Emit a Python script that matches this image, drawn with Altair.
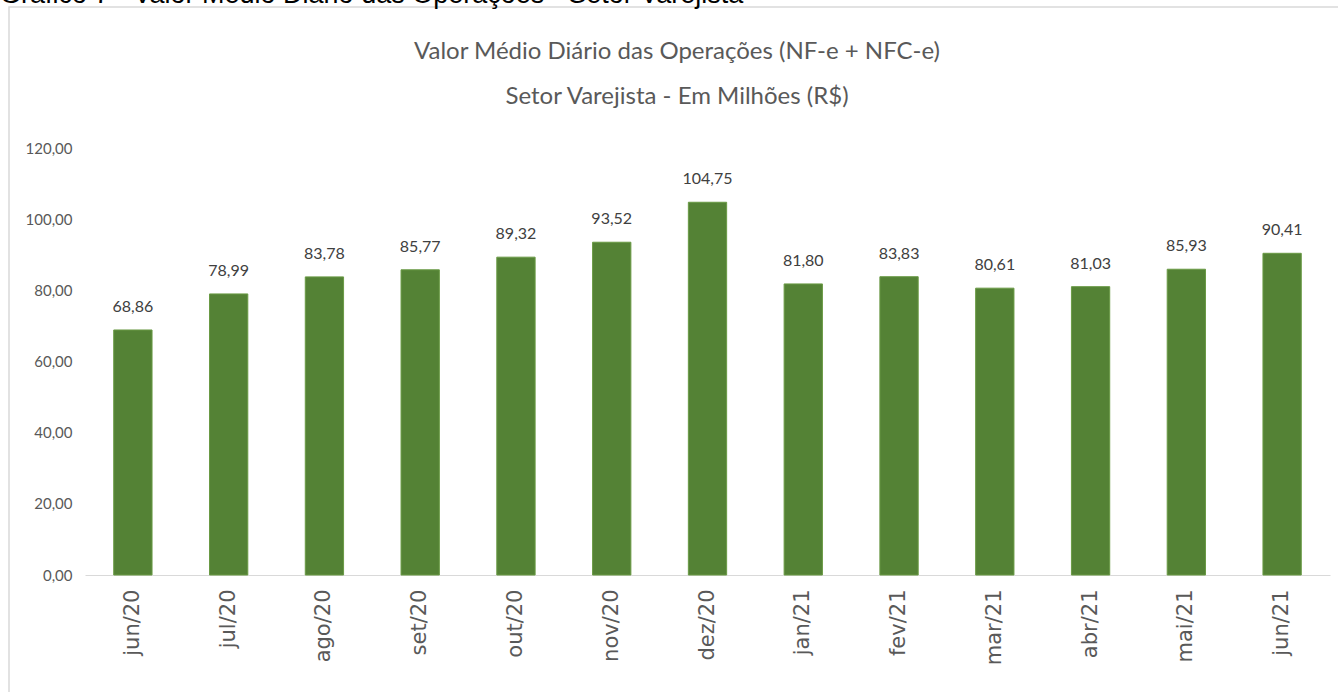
import altair as alt
import pandas as pd

meses = ["jun/20", "jul/20", "ago/20", "set/20", "out/20", "nov/20", "dez/20",
         "jan/21", "fev/21", "mar/21", "abr/21", "mai/21", "jun/21"]
valores = [68.86, 78.99, 83.78, 85.77, 89.32, 93.52, 104.75,
           81.80, 83.83, 80.61, 81.03, 85.93, 90.41]
titulo = ["Valor Médio Diário das Operações (NF-e + NFC-e)",
          "Setor Varejista - Em Milhões (R$)"]
cabecalho = "Gráfico 7 - Valor Médio Diário das Operações - Setor Varejista"

df = pd.DataFrame({"mes": meses, "valor": valores})

W, H = 1245, 427
PADL, PADT = 85, 148

x = alt.X("mes:N", sort=meses, title=None,
          scale=alt.Scale(paddingInner=0.6, paddingOuter=0.3),
          axis=alt.Axis(labelAngle=-90, labelFont="DejaVu Sans", labelFontSize=21,
                        labelColor="#595959", labelPadding=14, ticks=False,
                        domainColor="#D9D9D9", domainWidth=1.2, labelBaseline="middle"))
y = alt.Y("valor:Q", title=None,
          scale=alt.Scale(domain=[0, 120], nice=False),
          axis=alt.Axis(values=[0, 20, 40, 60, 80, 100, 120], grid=False, domain=False,
                        ticks=False, labelFont="Lato", labelFontSize=15,
                        labelColor="#595959", labelPadding=13,
                        labelExpr="replace(format(datum.value, '.2f'), '.', ',')"))

base = alt.Chart(df)

bars = base.mark_bar(color="#548235", stroke="#6A9A45", strokeWidth=1).encode(x=x, y=y)

labels = base.transform_calculate(
    rotulo="replace(format(datum.valor, '.2f'), '.', ',')"
).mark_text(font="Lato", fontSize=16, color="#404040", dy=-18, baseline="alphabetic").encode(
    x=alt.X("mes:N", sort=meses), y="valor:Q", text="rotulo:N")

one = alt.Chart(pd.DataFrame({"k": [0]}))
frame = one.mark_rect(fill=None, stroke="#D9D9D9", strokeWidth=1.5).encode(
    x=alt.value(-76), x2=alt.value(W + 20), y=alt.value(-141), y2=alt.value(H + 200))

head = one.mark_text(text=cabecalho, font="Liberation Sans", fontSize=27, color="#000000",
                     align="left", baseline="alphabetic").encode(
    x=alt.value(-85), y=alt.value(-145))

t1 = one.mark_text(text=titulo[0], font="Lato", fontSize=24, color="#595959",
                   align="center", baseline="middle").encode(
    x=alt.value(677 - PADL), y=alt.value(52 - PADT))
t2 = one.mark_text(text=titulo[1], font="Lato", fontSize=24, color="#595959",
                   align="center", baseline="middle").encode(
    x=alt.value(677 - PADL), y=alt.value(97 - PADT))

chart = alt.layer(frame, head, t1, t2, bars, labels).properties(
    width=W, height=H,
    autosize=alt.AutoSizeParams(type="none"),
    padding={"left": PADL, "top": PADT, "right": 8, "bottom": 117},
).configure_view(stroke=None)

chart.save("out.html", embed_options={"renderer": "svg", "actions": False})
